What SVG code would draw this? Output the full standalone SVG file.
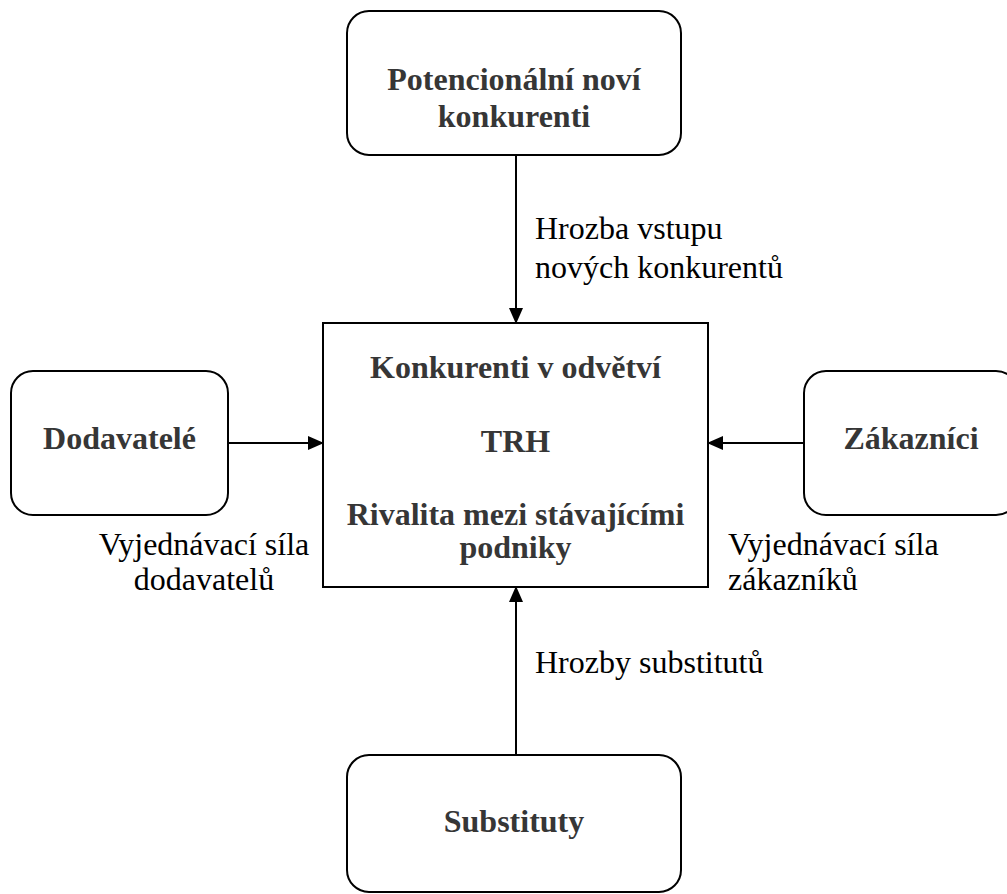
<svg xmlns="http://www.w3.org/2000/svg" width="1007" height="894" viewBox="0 0 1007 894">
  <style>
    .box { fill: #ffffff; stroke: #000000; stroke-width: 2; }
    .title { font-family: "Liberation Serif", "Times New Roman", serif; font-size: 32px; font-weight: bold; fill: #363636; text-anchor: middle; }
    .label { font-family: "Liberation Serif", "Times New Roman", serif; font-size: 32px; fill: #000000; }
    .link { stroke: #000000; stroke-width: 2; fill: none; marker-end: url(#arrow); }
  </style>
  <defs>
    <marker id="arrow" markerUnits="userSpaceOnUse" markerWidth="16" markerHeight="14" refX="15" refY="7" orient="auto">
      <path d="M0,0 L16,7 L0,14 Z" fill="#000000"/>
    </marker>
  </defs>
  <rect width="1007" height="894" fill="#ffffff"/>

  <g id="connectors">
    <line class="link" x1="516" y1="155" x2="516" y2="323"/>
    <line class="link" x1="228" y1="443" x2="323" y2="443"/>
    <line class="link" x1="804" y1="443" x2="708" y2="443"/>
    <line class="link" x1="516" y1="755" x2="516" y2="587"/>
    <text class="label" x="535" y="239">Hrozba vstupu</text>
    <text class="label" x="535" y="278">nových konkurentů</text>
    <text class="label" x="204" y="555" text-anchor="middle">Vyjednávací síla</text>
    <text class="label" x="204" y="590" text-anchor="middle">dodavatelů</text>
    <text class="label" x="728" y="555">Vyjednávací síla</text>
    <text class="label" x="728" y="590">zákazníků</text>
    <text class="label" x="535" y="673">Hrozby substitutů</text>
  </g>

  <g id="node-new-entrants">
    <rect class="box" x="347" y="11" width="334" height="144" rx="22"/>
    <text class="title" x="514" y="90">Potencionální noví</text>
    <text class="title" x="514" y="127">konkurenti</text>
  </g>

  <g id="node-market">
    <rect class="box" x="323" y="323" width="385" height="264"/>
    <text class="title" x="515.5" y="378">Konkurenti v odvětví</text>
    <text class="title" x="515.5" y="452">TRH</text>
    <text class="title" x="515.5" y="525">Rivalita mezi stávajícími</text>
    <text class="title" x="515.5" y="558">podniky</text>
  </g>

  <g id="node-suppliers">
    <rect class="box" x="11" y="371" width="217" height="144" rx="22"/>
    <text class="title" x="119.5" y="449">Dodavatelé</text>
  </g>

  <g id="node-customers">
    <rect class="box" x="804" y="371" width="214" height="144" rx="22"/>
    <text class="title" x="911" y="449">Zákazníci</text>
  </g>

  <g id="node-substitutes">
    <rect class="box" x="347" y="755" width="334" height="137" rx="22"/>
    <text class="title" x="514" y="832">Substituty</text>
  </g>
</svg>
